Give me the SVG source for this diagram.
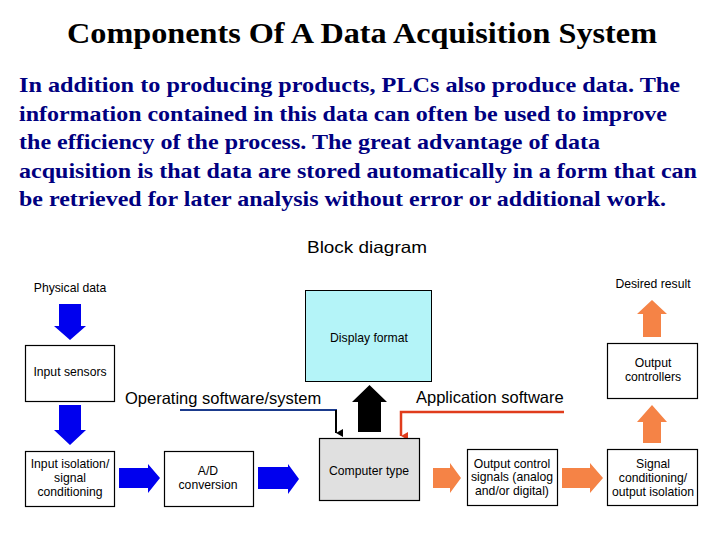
<svg xmlns="http://www.w3.org/2000/svg" width="720" height="540" viewBox="0 0 720 540">
<style>
.title{font-family:"Liberation Serif",serif;font-weight:bold;font-size:30px;fill:#000}
.para{font-family:"Liberation Serif",serif;font-weight:bold;font-size:22px;fill:#000080}
.lbl{font-family:"Liberation Sans",Arial,sans-serif;font-size:12.2px;fill:#000;text-anchor:middle}
.big{font-family:"Liberation Sans",Arial,sans-serif;font-size:16.5px;fill:#000}
.box{fill:#fff;stroke:#000;stroke-width:1.2}
.blue{fill:#0000ee}
.orange{fill:#f58346}
</style>
<defs>
<marker id="mk" markerWidth="8" markerHeight="8" refX="4" refY="7" orient="auto" markerUnits="userSpaceOnUse"><path d="M0,0 L4,7 L8,0 Z" fill="#000"/></marker>
<marker id="mr" markerWidth="8" markerHeight="8" refX="4" refY="7" orient="auto" markerUnits="userSpaceOnUse"><path d="M0,0 L4,7 L8,0 Z" fill="#e03c1c"/></marker>
</defs>
<rect width="720" height="540" fill="#fff"/>
<text class="title" x="67" y="43" textLength="590" lengthAdjust="spacingAndGlyphs">Components Of A Data Acquisition System</text>
<g class="para">
<text x="19" y="92" textLength="661" lengthAdjust="spacingAndGlyphs">In addition to producing products, PLCs also produce data. The</text>
<text x="19" y="121" textLength="648" lengthAdjust="spacingAndGlyphs">information contained in this data can often be used to improve</text>
<text x="19" y="149" textLength="581" lengthAdjust="spacingAndGlyphs">the efficiency of the process. The great advantage of data</text>
<text x="19" y="178" textLength="678" lengthAdjust="spacingAndGlyphs">acquisition is that data are stored automatically in a form that can</text>
<text x="19" y="206" textLength="647" lengthAdjust="spacingAndGlyphs">be retrieved for later analysis without error or additional work.</text>
</g>
<text class="big" x="307" y="253" font-size="17.5" textLength="120" lengthAdjust="spacingAndGlyphs">Block diagram</text>
<text class="lbl" x="70" y="292">Physical data</text>
<text class="lbl" x="653" y="288">Desired result</text>
<text class="big" x="125" y="404" font-size="16.8">Operating software/system</text>
<text class="big" x="416" y="403" font-size="17.3">Application software</text>

<g id="connectors">
<path class="blue" d="M59,304 H81 V326 H86 L70,340 L54,326 H59 Z"/>
<path class="blue" d="M59,405 H81 V430 H86 L70,445 L54,430 H59 Z"/>
<path class="blue" d="M119,468 H148 V464 L160,478 L148,493 V488 H119 Z"/>
<path class="blue" d="M258,467 H288 V464 L299,479 L288,494 V489 H258 Z"/>
<path fill="#000" d="M358,432 V402 H352 L369.5,385 L387,402 H381 V432 Z"/>
<path d="M180,410 H336 V433" fill="none" stroke="#1a3a8c" stroke-width="2"/>
<path d="M336,410 V433" fill="none" stroke="#000" stroke-width="2" marker-end="url(#mk)"/>
<path d="M564,412 H401 V436" fill="none" stroke="#e03c1c" stroke-width="2.5" marker-end="url(#mr)"/>
<path class="orange" d="M433,468 H450 V463 L461,478 L450,493 V488 H433 Z"/>
<path class="orange" d="M562,468 H590 V463 L603,478 L590,493 V488 H562 Z"/>
<path class="orange" d="M643,443 V422 H637 L652,405 L667,422 H661 V443 Z"/>
<path class="orange" d="M643,337 V314 H637 L652,300 L667,314 H661 V337 Z"/>
</g>

<g id="input-sensors"><rect class="box" x="25.5" y="345.5" width="89" height="56"/><text class="lbl" x="70" y="376">Input sensors</text></g>
<g id="input-isolation"><rect class="box" x="25.5" y="451.5" width="89" height="55"/><text class="lbl" x="70" y="468">Input isolation/</text><text class="lbl" x="70" y="482">signal</text><text class="lbl" x="70" y="496">conditioning</text></g>
<g id="ad-conversion"><rect class="box" x="164.5" y="451.5" width="89" height="55"/><text class="lbl" x="208" y="475">A/D</text><text class="lbl" x="208" y="489">conversion</text></g>
<g id="computer-type"><rect x="319.5" y="438.5" width="100" height="62" fill="#e0e0e0" stroke="#000" stroke-width="1.2"/><text class="lbl" x="369" y="475" font-size="14.3">Computer type</text></g>
<g id="display-format"><rect x="305.5" y="290.5" width="126" height="91" fill="#b4f4f8" stroke="#000" stroke-width="1"/><text class="lbl" x="369" y="342" font-size="14.3">Display format</text></g>
<g id="output-control"><rect class="box" x="467.5" y="449.5" width="90" height="56"/><text class="lbl" x="512" y="468">Output control</text><text class="lbl" x="512" y="481">signals (analog</text><text class="lbl" x="512" y="495">and/or digital)</text></g>
<g id="signal-conditioning"><rect class="box" x="607.5" y="449.5" width="90" height="56"/><text class="lbl" x="653" y="468">Signal</text><text class="lbl" x="653" y="482">conditioning/</text><text class="lbl" x="653" y="496">output isolation</text></g>
<g id="output-controllers"><rect class="box" x="607.5" y="343.5" width="90" height="55"/><text class="lbl" x="653" y="367">Output</text><text class="lbl" x="653" y="381">controllers</text></g>
</svg>
